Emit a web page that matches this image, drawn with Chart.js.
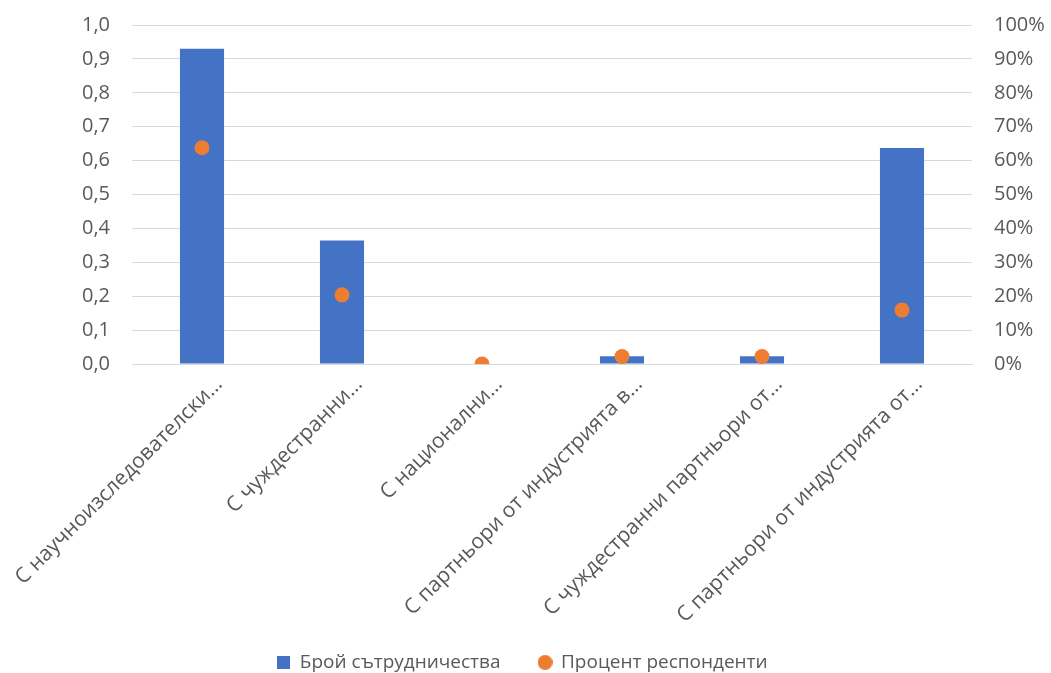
<!DOCTYPE html>
<html>
<head>
<meta charset="utf-8">
<script src="https://cdn.jsdelivr.net/npm/chart.js@4/dist/chart.umd.min.js"></script>
<style>
  html, body { margin: 0; padding: 0; background: #fff; }
  #wrap { width: 1051px; height: 673px; position: relative; }
</style>
</head>
<body>
<div id="wrap"><canvas id="chart"></canvas></div>
<script>
// categories (truncated as in the original)
const categories = [
  'С научноизследователски…',
  'С чуждестранни…',
  'С национални…',
  'С партньори от индустрията в…',
  'С чуждестранни партньори от…',
  'С партньори от индустрията от…'
];
// number of collaborations (left axis)
const collaborations = [0.93, 0.364, 0, 0.023, 0.023, 0.637];
// percent of respondents (right axis, 0..1)
const respondents = [0.638, 0.204, 0, 0.022, 0.022, 0.159];

const leftTicks = [0, 0.1, 0.2, 0.3, 0.4, 0.5, 0.6, 0.7, 0.8, 0.9, 1.0];

const FONT = "'Open Sans', sans-serif";
const TXT = '#595959';
const BLUE = '#4472C4';
const ORANGE = '#ED7D31';

// small legend markers
function marker(kind, size, color) {
  const c = document.createElement('canvas');
  c.width = size; c.height = size;
  const g = c.getContext('2d');
  g.fillStyle = color;
  if (kind === 'circle') {
    g.beginPath();
    g.arc(size / 2, size / 2, size / 2, 0, Math.PI * 2);
    g.fill();
  } else {
    g.fillRect(0, 0, size, size);
  }
  return c;
}
const legendMarks = [marker('rect', 13, BLUE), marker('circle', 15, ORANGE)];

// legend keeps wide gaps between items but a short box,
// centred on the whole canvas; x labels are allowed to run past the axis box
const layoutTweaks = {
  id: 'layoutTweaks',
  beforeInit(chart) {
    const fit = chart.legend.fit;
    chart.legend.fit = function () {
      fit.call(this);
      this.height = 58;
    };
  },
  afterLayout(chart) {
    chart.legend.left = 0;
    chart.legend.right = 1045;
    chart.scales.x.bottom = chart.height;
  }
};

const ctx = document.getElementById('chart').getContext('2d');
new Chart(ctx, {
  data: {
    labels: categories,
    datasets: [
      {
        type: 'bar',
        label: 'Брой сътрудничества',
        data: collaborations,
        backgroundColor: BLUE,
        yAxisID: 'y',
        barPercentage: 0.315,
        categoryPercentage: 1,
        order: 2
      },
      {
        type: 'line',
        label: 'Процент респонденти',
        data: respondents,
        showLine: false,
        borderColor: ORANGE,
        backgroundColor: ORANGE,
        pointRadius: 7.5,
        pointBorderWidth: 0,
        pointStyle: 'circle',
        yAxisID: 'y1',
        order: 1
      }
    ]
  },
  plugins: [layoutTweaks],
  options: {
    responsive: true,
    maintainAspectRatio: false,
    animation: false,
    layout: { padding: { left: 79, right: 7, top: 25, bottom: 0 } },
    plugins: {
      tooltip: { enabled: false },
      legend: {
        position: 'bottom',
        labels: {
          usePointStyle: true,
          boxWidth: 13,
          boxHeight: 14,
          padding: 38,
          color: TXT,
          font: { family: FONT, size: 19 },
          sort: (a, b) => a.datasetIndex - b.datasetIndex,
          generateLabels: (chart) => {
            const items = Chart.defaults.plugins.legend.labels.generateLabels(chart);
            items.forEach(it => { it.pointStyle = legendMarks[it.datasetIndex]; });
            return items;
          }
        }
      }
    },
    scales: {
      x: {
        grid: { display: false, drawTicks: false },
        border: { color: '#d9d9d9', width: 1 },
        afterFit: (scale) => {
          scale.height = 251;
          scale.paddingLeft = 0;
          scale.paddingRight = 0;
        },
        ticks: {
          color: TXT,
          font: { family: FONT, size: 21 },
          maxRotation: 45,
          minRotation: 45,
          autoSkip: false,
          labelOffset: 17,
          padding: 8
        }
      },
      y: {
        position: 'left',
        min: 0,
        max: 1,
        afterBuildTicks: (axis) => { axis.ticks = leftTicks.map(v => ({ value: v })); },
        afterFit: (scale) => {
          scale.width = 53;
          scale.paddingTop = 0;
          scale.paddingBottom = 0;
        },
        grid: { color: '#d9d9d9', lineWidth: 1, drawTicks: false },
        border: { display: false },
        ticks: {
          color: TXT,
          font: { family: FONT, size: 20 },
          padding: 22,
          callback: (v) => v.toFixed(1).replace('.', ',')
        }
      },
      y1: {
        position: 'right',
        min: 0,
        max: 1,
        afterBuildTicks: (axis) => { axis.ticks = leftTicks.map(v => ({ value: v })); },
        afterFit: (scale) => {
          scale.width = 72;
          scale.paddingTop = 0;
          scale.paddingBottom = 0;
        },
        grid: { display: false, drawTicks: false },
        border: { display: false },
        ticks: {
          color: TXT,
          font: { family: FONT, size: 20 },
          padding: 22,
          callback: (v) => Math.round(v * 100) + '%'
        }
      }
    }
  }
});
</script>
</body>
</html>
